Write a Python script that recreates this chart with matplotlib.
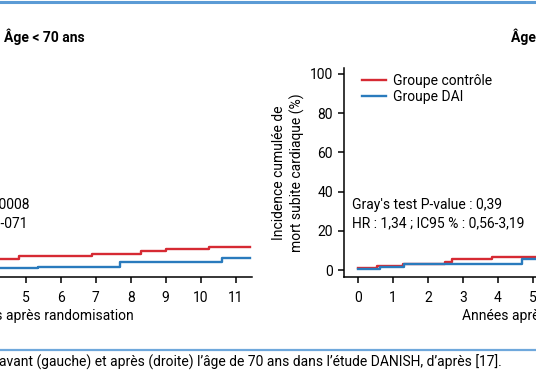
import matplotlib
matplotlib.use("Agg")
import matplotlib.pyplot as plt
from matplotlib.lines import Line2D

plt.rcParams['font.family'] = ['Roboto', 'DejaVu Sans']

# ---- data ----
xticks = list(range(0, 12))
yticks = [0, 20, 40, 60, 80, 100]

# Left panel: Age < 70 ans
left_ctrl_t = [0, 0.6, 1.5, 2.5, 3.4, 4.8, 6.9, 8.3, 9.0, 10.25, 11.4]
left_ctrl_v = [0.5, 1.5, 2.8, 4.0, 5.8, 7.1, 8.2, 9.5, 10.6, 11.7, 11.7]
left_dai_t = [0, 1.2, 3.0, 5.35, 7.7, 10.6, 11.4]
left_dai_v = [0.3, 0.6, 0.9, 1.7, 3.9, 6.3, 6.3]

# Right panel: Age >= 70 ans
right_ctrl_t = [0, 0.53, 1.28, 2.49, 2.68, 3.83, 11.4]
right_ctrl_v = [1.0, 2.0, 3.0, 4.2, 5.4, 6.5, 6.5]
right_dai_t = [0, 0.62, 1.3, 4.7, 11.4]
right_dai_v = [0.4, 1.7, 2.9, 5.4, 5.4]

titles = ["Âge < 70 ans", "Âge ≥ 70 ans"]
stats_left = ["Gray's test P-value : 0,0008", "HR : 0,36 ; IC95 % : 0,18-071"]
stats_right = ["Gray's test P-value : 0,39", "HR : 1,34 ; IC95 % : 0,56-3,19"]
legend_labels = ["Groupe contrôle", "Groupe DAI"]
ylabel = "Incidence cumulée de\nmort subite cardiaque (%)"
xlabel = "Années après randomisation"
caption = "avant (gauche) et après (droite) l’âge de 70 ans dans l’étude DANISH, d’après [17]."

RED = '#d62a33'
BLUE = '#2a7bbd'
FS = 10

W, H = 536, 386
fig = plt.figure(figsize=(W / 100, H / 100), dpi=100)

def px_axes(left, right, top, bottom):
    return [left / W, (H - bottom) / H, (right - left) / W, (bottom - top) / H]

axL = fig.add_axes(px_axes(-163, 252, 68.3, 277))
axR = fig.add_axes(px_axes(344, 758, 68.3, 277))

panels = [
    (axL, left_ctrl_t, left_ctrl_v, left_dai_t, left_dai_v, titles[0]),
    (axR, right_ctrl_t, right_ctrl_v, right_dai_t, right_dai_v, titles[1]),
]

for ax, ct, cv, dt, dv, title in panels:
    ax.step(ct, cv, where='post', color=RED, lw=1.7, label=legend_labels[0])
    ax.step(dt, dv, where='post', color=BLUE, lw=1.7, label=legend_labels[1])
    ax.set_xlim(-0.41, 11.47)
    ax.set_ylim(-3.57, 102.9)
    ax.set_xticks(xticks)
    ax.set_yticks(yticks)
    ax.spines['top'].set_visible(False)
    ax.spines['right'].set_visible(False)
    for s in ('left', 'bottom'):
        ax.spines[s].set_linewidth(1.1)
    ax.tick_params(direction='out', length=4, width=1.1, labelsize=FS)
    ax.tick_params(axis='x', pad=6)
    ax.tick_params(axis='y', pad=4)
    ax.set_xlabel(xlabel, fontsize=FS, labelpad=3)
    ax.set_ylabel(ylabel, fontsize=FS, labelpad=3, linespacing=1.35)
    ax.text(0.5, 1.15, title, transform=ax.transAxes, ha='center', va='center',
            fontsize=FS, fontweight='bold')
    ax.legend(loc='upper left', bbox_to_anchor=(0.03, 1.0), frameon=False,
              fontsize=FS, handlelength=1.7, handletextpad=0.55,
              labelspacing=0.12, borderaxespad=0.0)

axR.text(0.019, 0.345, stats_right[0], transform=axR.transAxes, ha='left', va='center', fontsize=FS)
axR.text(0.019, 0.257, stats_right[1], transform=axR.transAxes, ha='left', va='center', fontsize=FS)
axL.text(0.463, 0.345, stats_left[0], transform=axL.transAxes, ha='right', va='center', fontsize=FS)
axL.text(0.458, 0.257, stats_left[1], transform=axL.transAxes, ha='right', va='center', fontsize=FS)

# decorative rules and caption
fig.add_artist(Line2D([0, 1], [1 - 2 / H, 1 - 2 / H], transform=fig.transFigure,
                      color='#5b9bd5', lw=2.2))
fig.add_artist(Line2D([0, 1], [1 - 349.5 / H, 1 - 349.5 / H], transform=fig.transFigure,
                      color='#6fa8dc', lw=1.6))
fig.text(-0.002, 1 - 362 / H, caption, ha='left', va='center', fontsize=10)

fig.savefig('out.png', dpi=100)
